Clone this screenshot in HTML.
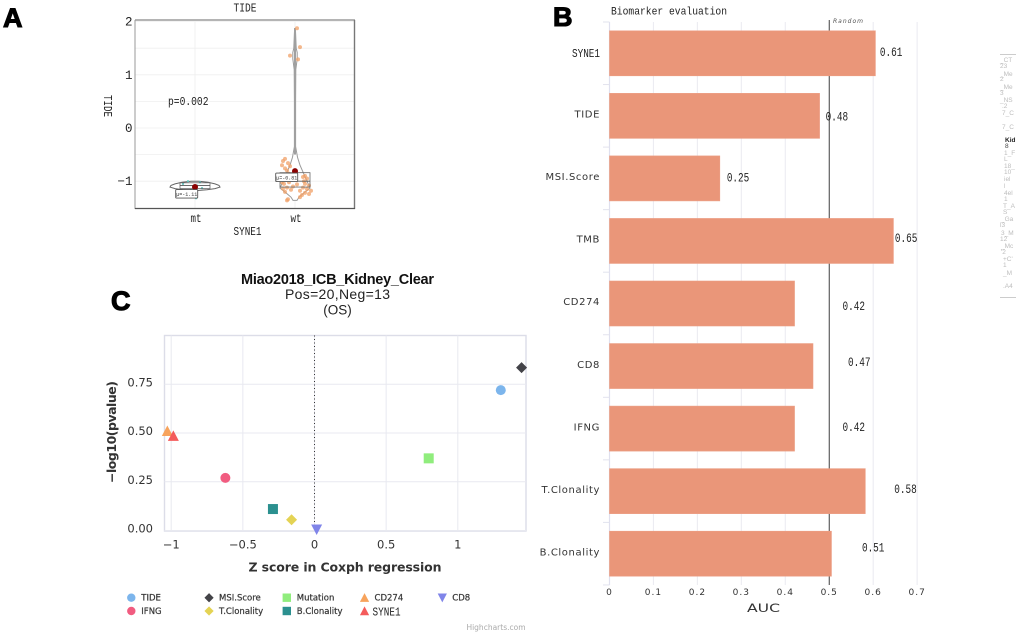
<!DOCTYPE html>
<html>
<head>
<meta charset="utf-8">
<title>Biomarker figure</title>
<style>
html,body{margin:0;padding:0;background:#fff;width:1020px;height:637px;overflow:hidden}
svg{display:block}
.mono{font-family:"Liberation Mono",monospace;fill:#222}
.wide{font-family:"DejaVu Sans",sans-serif;fill:#333}
.panel{font-family:"Liberation Sans",sans-serif;font-weight:bold;font-size:27px;fill:#000;stroke:#000;stroke-width:1.1px}
.ghost{font-family:"Liberation Sans",sans-serif;font-size:6.5px;fill:#bdbdbd}
</style>
</head>
<body>
<svg id="figure" xmlns="http://www.w3.org/2000/svg" width="1020" height="637" viewBox="0 0 1020 637">
  <rect width="1020" height="637" fill="#fff"/>
  <text class="panel" x="3" y="27">A</text>
  <text class="panel" x="553" y="26">B</text>
  <text class="panel" x="111" y="310">C</text>

  <g id="violin"></g>
  <g id="bars"></g>
  <g id="scatter"></g>

  <g>
    <line x1="1000" x2="1016" y1="54.5" y2="54.5" stroke="#ccc"/>
    <text class="ghost">
      <tspan x="1000" y="62">_CT</tspan><tspan x="1000" y="68">23</tspan><tspan x="1000" y="76">_Me</tspan><tspan x="1000" y="81">2</tspan><tspan x="1000" y="89">_Me</tspan><tspan x="1000" y="95">3</tspan><tspan x="1000" y="102">_NS</tspan><tspan x="1002" y="108">.2</tspan><tspan x="1002" y="115">7_C</tspan><tspan x="1002" y="129">7_C</tspan>
      <tspan x="1005" y="142" font-weight="bold" fill="#222">Kid</tspan><tspan x="1005" y="148" fill="#444">8</tspan>
      <tspan x="1004" y="155">1_F</tspan><tspan x="1004" y="161">L</tspan><tspan x="1004" y="168">18_</tspan><tspan x="1004" y="174">10</tspan><tspan x="1004" y="181">iel</tspan><tspan x="1004" y="188">l</tspan><tspan x="1004" y="195">4el</tspan><tspan x="1004" y="201">1</tspan><tspan x="1003" y="208">T_A</tspan><tspan x="1003" y="214">S</tspan><tspan x="1001" y="221">_Ga</tspan><tspan x="1000" y="227">l3</tspan><tspan x="1001" y="235">3_M</tspan><tspan x="1000" y="241">12</tspan><tspan x="1001" y="248">_Mc</tspan><tspan x="1001" y="254">'2</tspan><tspan x="1003" y="261">+C'</tspan><tspan x="1003" y="267">1</tspan><tspan x="1003" y="275">_M</tspan><tspan x="1003" y="288">.A4</tspan>
    </text>
    <line x1="1000" x2="1016" y1="297.5" y2="297.5" stroke="#ccc"/>
    <rect x="1017" y="40" width="3" height="270" fill="#fff"/>
  </g>
</svg>

<script>
/* ---------- Panel A data ---------- */
const violinGroups = ['mt', 'wt'];
const violinTicks = [-1, 0, 1, 2];
const violinMinorTicks = [-0.5, 0.5, 1.5];
const mtValues = [-1.0, -1.02, -1.05, -1.08, -1.13, -1.16, -1.32];
const mtJitter = [-0.07, 0.05, -0.12, 0.02, 0.07, -0.04, 0.01];
const wtValues = [1.875, 1.52, 1.36, 1.29, -0.58, -0.62, -0.66, -0.7, -0.72, -0.76, -0.8, -0.86, -0.9, -0.92, -0.95, -1.0, -1.02, -1.02, -1.05, -1.05, -1.06, -1.08, -1.1, -1.12, -1.12, -1.14, -1.15, -1.16, -1.18, -1.18, -1.2, -1.22, -1.24, -1.26, -1.3, -1.34, -1.36];
const wtJitter = [0.02, 0.05, -0.05, 0.03, -0.1, -0.12, -0.07, -0.13, -0.05, -0.1, -0.08, -0.06, 0.1, 0.08, 0.12, 0.09, -0.13, -0.06, -0.11, 0.1, 0.02, 0.14, -0.02, -0.08, 0.08, -0.12, 0.12, -0.04, 0.05, 0.16, -0.1, 0.1, 0.14, 0.07, 0.05, -0.07, -0.08];
const mtViolinLevels = [-1.0, -1.02, -1.05, -1.08, -1.11, -1.14, -1.16, -1.175];
const mtViolinWidths = [0.04, 0.13, 0.2, 0.24, 0.25, 0.2, 0.12, 0.03];
const wtViolinLevels = [1.87, 1.5, 1.42, 1.3, 1.1, 0.5, -0.35, -0.55, -0.7, -0.85, -1.0, -1.13, -1.22, -1.3, -1.36];
const wtViolinWidths = [0.004, 0.012, 0.022, 0.022, 0.008, 0.006, 0.006, 0.025, 0.05, 0.085, 0.12, 0.15, 0.09, 0.04, 0.02];
const groupQ1 = [-1.14, -1.11];
const groupMedian = [-1.08, -1.0];
const groupQ3 = [-1.03, -0.84];
const groupMean = [-1.11, -0.81];
const meanLabels = ['\u03bc=-1.11', '\u03bc=-0.81'];

/* ---------- Panel B data ---------- */
const barCategories = ['SYNE1', 'TIDE', 'MSI.Score', 'TMB', 'CD274', 'CD8', 'IFNG', 'T.Clonality', 'B.Clonality'];
const barValues = [0.605, 0.478, 0.251, 0.646, 0.421, 0.463, 0.421, 0.582, 0.505];
const barPrinted = ['0.61', '0.48', '0.25', '0.65', '0.42', '0.47', '0.42', '0.58', '0.51'];
const barTicks = [0, 0.1, 0.2, 0.3, 0.4, 0.5, 0.6, 0.7];
const randomLine = 0.5;

/* ---------- Panel C data ---------- */
const scatterNames = ['TIDE', 'MSI.Score', 'Mutation', 'CD274', 'CD8', 'IFNG', 'T.Clonality', 'B.Clonality', 'SYNE1'];
const scatterZ = [1.30, 1.445, 0.797, -1.027, 0.015, -0.622, -0.16, -0.29, -0.985];
const scatterP = [0.72, 0.835, 0.37, 0.51, 0.005, 0.27, 0.055, 0.11, 0.485];
const scatterXTicks = [-1, -0.5, 0, 0.5, 1];
const scatterYTicks = [0, 0.25, 0.5, 0.75];

/* ---------- Layout and style (not data) ---------- */
const barLabelGap = [4.5, 6, 7, 1.5, 48, 35, 48, 29, 30.5];
const barLabelShift = [-1.5, 0.5, -1, -3, 2.5, -4, -1.5, -2, -6];
const scatterColors = ['#7cb5ec', '#434348', '#90ed7d', '#f7a35c', '#8085e9', '#f15c80', '#e4d354', '#2b908f', '#f45b5b'];
const scatterShapes = ['circle', 'diamond', 'square', 'triangle', 'triangle-down', 'circle', 'diamond', 'square', 'triangle'];

const NS = 'http://www.w3.org/2000/svg';
function make(parent, tag, attrs, content) {
  const node = document.createElementNS(NS, tag);
  for (const k in attrs) node.setAttribute(k, attrs[k]);
  if (content !== undefined) node.textContent = content;
  parent.appendChild(node);
  return node;
}
function label(s) { return String(s).replace('-', '\u2212'); }
const SQUEEZE = 'spacingAndGlyphs';

/* ========== Panel A ========== */
(function () {
  const g = document.getElementById('violin');
  const yA = v => 128 - 53.2 * v;
  const xA = c => 195 + 100 * c;
  let el;

  el = make(g, 'text', { class: 'mono', x: 245, y: 11.5, 'text-anchor': 'middle', 'font-size': 12, textLength: 23, lengthAdjust: SQUEEZE }, 'TIDE');
  
  

  [...violinTicks, ...violinMinorTicks].forEach(t => {
    const line = make(g, 'line', { x1: 135, x2: 354, y1: yA(t), y2: yA(t), stroke: '#efefef', 'stroke-width': 0.8 });
    
    
  });
  violinGroups.forEach((name, i) => {
    const line = make(g, 'line', { x1: xA(i), x2: xA(i), y1: 20, y2: 208, stroke: '#efefef', 'stroke-width': 0.8 });
    
    
  });

  violinTicks.forEach(t => {
    const txt = make(g, 'text', { class: 'mono', x: 132.5, y: yA(t) + 4, 'text-anchor': 'end', 'font-size': 12.5 }, label(t));
    
    
  });

  const profiles = [[mtViolinLevels, mtViolinWidths], [wtViolinLevels, wtViolinWidths]];
  profiles.forEach((p, i) => {
    const right = p[0].map((lv, k) => xA(i + p[1][k]) + ',' + yA(lv));
    const left = p[0].map((lv, k) => xA(i - p[1][k]) + ',' + yA(lv)).reverse();
    const poly = make(g, 'polygon', { points: right.concat(left).join(' '), fill: '#fff', stroke: i ? '#9a9a9a' : '#666', 'stroke-width': 1 });
    
    
  });
  const stem = make(g, 'line', { x1: xA(1), x2: xA(1), y1: yA(1.87), y2: yA(-0.5), stroke: '#a0a0a0', 'stroke-width': 2 });
  
  

  mtValues.forEach((v, i) => {
    const c = make(g, 'circle', { cx: xA(mtJitter[i]), cy: yA(v), r: 1.1, fill: '#62c6c0' });
    
    
  });
  wtValues.forEach((v, i) => {
    const c = make(g, 'circle', { cx: xA(1 + wtJitter[i]), cy: yA(v), r: 2, fill: '#f0a067', 'fill-opacity': 0.75 });
    
    
  });

  violinGroups.forEach((name, i) => {
    const box = make(g, 'rect', { x: xA(i - 0.15), width: 30, y: yA(groupQ3[i]), height: yA(groupQ1[i]) - yA(groupQ3[i]), fill: 'none', stroke: '#666', 'stroke-width': 0.8 });
    
    
    const med = make(g, 'line', { x1: xA(i - 0.15), x2: xA(i + 0.15), y1: yA(groupMedian[i]), y2: yA(groupMedian[i]), stroke: '#555', 'stroke-width': 0.8 });
    
    
    const mean = make(g, 'circle', { cx: xA(i), cy: yA(groupMean[i]), r: 3, fill: '#8b0000' });
    
    
    const lx = xA(i) - 19.3;
    const ly = yA(groupMean[i]) + (i ? 2 : 2.5);
    const tag = make(g, 'rect', { x: lx, y: ly, width: 22, height: 8.5, fill: '#fff', stroke: '#555', 'stroke-width': 0.9, rx: 0.8 });
    
    
    const txt = make(g, 'text', { x: lx + 11, y: ly + 6.3, 'text-anchor': 'middle', 'font-size': 5, 'font-family': '"Liberation Mono",monospace', fill: '#333' }, meanLabels[i]);
    
    
    const cat = make(g, 'text', { class: 'mono', x: xA(i) + 1, y: 222, 'text-anchor': 'middle', 'font-size': 11.5, textLength: 11, lengthAdjust: SQUEEZE }, name);
    
    
  });

  let f;
  f = make(g, 'line', { x1: 135, x2: 355, y1: 20, y2: 20, stroke: '#aaa', 'stroke-width': 1.8 });
  
  
  f = make(g, 'line', { x1: 354.5, x2: 354.5, y1: 20, y2: 209, stroke: '#777', 'stroke-width': 1.4 });
  
  
  f = make(g, 'line', { x1: 135, x2: 135, y1: 20, y2: 209, stroke: '#999', 'stroke-width': 1 });
  
  
  f = make(g, 'line', { x1: 135, x2: 355, y1: 208.5, y2: 208.5, stroke: '#555', 'stroke-width': 1.3 });
  
  

  el = make(g, 'text', { class: 'mono', x: 168, y: 105, 'font-size': 12, textLength: 40.5, lengthAdjust: SQUEEZE }, 'p=0.002');
  
  
  el = make(g, 'text', { class: 'mono', x: 0, y: 0, 'text-anchor': 'middle', 'font-size': 12, textLength: 22, lengthAdjust: SQUEEZE, transform: 'translate(104,106) rotate(90)' }, 'TIDE');
  
  
  el = make(g, 'text', { class: 'mono', x: 247.5, y: 235, 'text-anchor': 'middle', 'font-size': 12, textLength: 28, lengthAdjust: SQUEEZE }, 'SYNE1');
  
  
})();

/* ========== Panel B ========== */
(function () {
  const g = document.getElementById('bars');
  const xB = v => 609.5 + 439.5 * v;
  const bandTop = i => 22 + 62.55 * i;
  let el;

  el = make(g, 'text', { class: 'mono', x: 611, y: 14.5, 'font-size': 11, textLength: 116, lengthAdjust: SQUEEZE }, 'Biomarker evaluation');
  
  

  barTicks.forEach(t => {
    if (t > 0) {
      const line = make(g, 'line', { x1: xB(t), x2: xB(t), y1: 22, y2: 585, stroke: '#ececf2', 'stroke-width': 1.1 });
      
      
    }
    const txt = make(g, 'text', { class: 'wide', x: xB(t), y: 595, 'text-anchor': 'middle', 'font-size': 9, 'letter-spacing': 1 }, t);
    
    
  });

  const rnd = make(g, 'line', { x1: xB(randomLine), x2: xB(randomLine), y1: 20, y2: 585, stroke: '#444', 'stroke-width': 1 });
  
  
  el = make(g, 'text', { x: 833, y: 23, 'font-size': 6, 'font-style': 'italic', 'font-family': '"DejaVu Sans",sans-serif', fill: '#555', textLength: 30 }, 'Random');
  
  

  const yAxis = make(g, 'line', { x1: 609.5, x2: 609.5, y1: 22, y2: 585, stroke: '#dfe0ee', 'stroke-width': 1.2 });
  
  

  for (let i = 0; i <= barCategories.length; i++) {
    const tick = make(g, 'line', { x1: 603, x2: 609.5, y1: bandTop(i), y2: bandTop(i), stroke: '#e2e3ee', 'stroke-width': 1 });
    
    
  }

  barCategories.forEach((name, i) => {
    const mid = bandTop(i) + 31.3;
    const bar = make(g, 'rect', { x: xB(0), y: mid - 22.5, width: xB(barValues[i]) - xB(0), height: 45, fill: '#ea9679', stroke: '#ec9e84', 'stroke-width': 0.6 });
    
    

    const isCondensed = name === 'SYNE1';
    const cat = make(g, 'text', isCondensed
      ? { class: 'mono', x: 600, y: mid + 3.5, 'text-anchor': 'end', 'font-size': 12, textLength: 28, lengthAdjust: SQUEEZE }
      : { class: 'wide', x: 600, y: mid + 1.7, 'text-anchor': 'end', 'font-size': 10, 'letter-spacing': 0.6 }, name);
    
    

    const val = make(g, 'text', { class: 'mono', x: xB(barValues[i]) + barLabelGap[i], y: mid + barLabelShift[i] + 4, 'font-size': 12.5, textLength: 22.5, lengthAdjust: SQUEEZE }, barPrinted[i]);
    
    
  });

  el = make(g, 'text', { class: 'wide', x: 763.5, y: 612, 'text-anchor': 'middle', 'font-size': 11.5, textLength: 33, lengthAdjust: SQUEEZE, fill: '#222' }, 'AUC');
  
  
})();

/* ========== Panel C ========== */
(function () {
  const g = document.getElementById('scatter');
  const xC = v => 314.5 + 143.3 * v;
  const yC = v => 530.5 - 195 * v;
  let el;

  function marker(parent, shape, cx, cy, size, color) {
    const s = size;
    if (shape === 'circle') return make(parent, 'circle', { cx: cx, cy: cy, r: s, fill: color });
    if (shape === 'square') return make(parent, 'rect', { x: cx - s, y: cy - s, width: 2 * s, height: 2 * s, fill: color });
    let pts;
    if (shape === 'diamond') pts = [[cx, cy - s * 1.1], [cx + s * 1.1, cy], [cx, cy + s * 1.1], [cx - s * 1.1, cy]];
    if (shape === 'triangle') pts = [[cx, cy - s * 1.1], [cx + s * 1.1, cy + s], [cx - s * 1.1, cy + s]];
    if (shape === 'triangle-down') pts = [[cx - s * 1.1, cy - s], [cx + s * 1.1, cy - s], [cx, cy + s * 1.1]];
    return make(parent, 'polygon', { points: pts.map(p => p.join(',')).join(' '), fill: color });
  }

  el = make(g, 'text', { x: 337.5, y: 284, 'text-anchor': 'middle', 'font-size': 14.5, 'font-weight': 'bold', 'font-family': '"Liberation Sans",sans-serif', fill: '#111', textLength: 193 }, 'Miao2018_ICB_Kidney_Clear');
  
  
  el = make(g, 'text', { x: 337.5, y: 299, 'text-anchor': 'middle', 'font-size': 14, 'font-family': '"Liberation Sans",sans-serif', fill: '#222', textLength: 105 }, 'Pos=20,Neg=13');
  
  
  el = make(g, 'text', { x: 337.5, y: 314.5, 'text-anchor': 'middle', 'font-size': 13.5, 'font-family': '"Liberation Sans",sans-serif', fill: '#222' }, '(OS)');
  
  

  el = make(g, 'rect', { x: 164.5, y: 335.5, width: 361.5, height: 195.5, fill: 'none', stroke: '#dcdde8', 'stroke-width': 1.4 });
  
  

  scatterXTicks.forEach(t => {
    const line = make(g, 'line', { x1: xC(t), x2: xC(t), y1: 335.5, y2: 531, stroke: '#e8e9f0', 'stroke-width': 1 });
    
    
    const txt = make(g, 'text', { class: 'wide', x: xC(t), y: 548.5, 'text-anchor': 'middle', 'font-size': 11.5, fill: '#333' }, label(t));
    
    
  });
  scatterYTicks.forEach(t => {
    const line = make(g, 'line', { x1: 164.5, x2: 526, y1: yC(t), y2: yC(t), stroke: '#e8e9f0', 'stroke-width': 1 });
    
    
    const txt = make(g, 'text', { class: 'wide', x: 153, y: yC(t) + 2, 'text-anchor': 'end', 'font-size': 11.5, fill: '#333' }, t.toFixed(2));
    
    
  });

  const zero = make(g, 'line', { x1: xC(0), x2: xC(0), y1: 335.5, y2: 531, stroke: '#333', 'stroke-width': 1, 'stroke-dasharray': '1 2.5' });
  
  

  scatterNames.forEach((name, i) => {
    const m = marker(g, scatterShapes[i], xC(scatterZ[i]), yC(scatterP[i]), 5, scatterColors[i]);
    
    
  });

  el = make(g, 'text', { class: 'wide', x: 345, y: 571.5, 'text-anchor': 'middle', 'font-size': 12.5, 'font-weight': 'bold', fill: '#222', textLength: 193 }, 'Z score in Coxph regression');
  
  
  el = make(g, 'text', { class: 'wide', x: 0, y: 0, 'text-anchor': 'middle', 'font-size': 12.5, 'font-weight': 'bold', fill: '#222', textLength: 102, transform: 'translate(116,432) rotate(-90)' }, '\u2212log10(pvalue)');
  
  

  /* legend: laid out column-first in the order of the series */
  const legendOrder = ['TIDE', 'IFNG', 'MSI.Score', 'T.Clonality', 'Mutation', 'B.Clonality', 'CD274', 'SYNE1', 'CD8'];
  legendOrder.forEach((name, n) => {
    const i = scatterNames.indexOf(name);
    const col = Math.floor(n / 2);
    const row = n % 2;
    const lx = 131.3 + 77.75 * col;
    const ly = 597.7 + 13.3 * row;
    const entry = make(g, 'g', {});
    
    
    const sym = marker(entry, scatterShapes[i], lx, ly, 4.2, scatterColors[i]);
    
    
    const isCondensed = name === 'SYNE1';
    const t = make(entry, 'text', isCondensed
      ? { class: 'mono', x: lx + 8, y: ly + 4.5, 'font-size': 11.5, textLength: 28, lengthAdjust: SQUEEZE }
      : { class: 'wide', x: lx + 10, y: ly + 3, 'font-size': 8.5, stroke: '#444', 'stroke-width': 0.25, fill: '#444' }, name);
    
    
  });

  el = make(g, 'text', { x: 525.5, y: 630, 'text-anchor': 'end', 'font-size': 7.5, 'font-family': '"DejaVu Sans",sans-serif', fill: '#aaa' }, 'Highcharts.com');
  
  
})();
</script>
</body>
</html>
